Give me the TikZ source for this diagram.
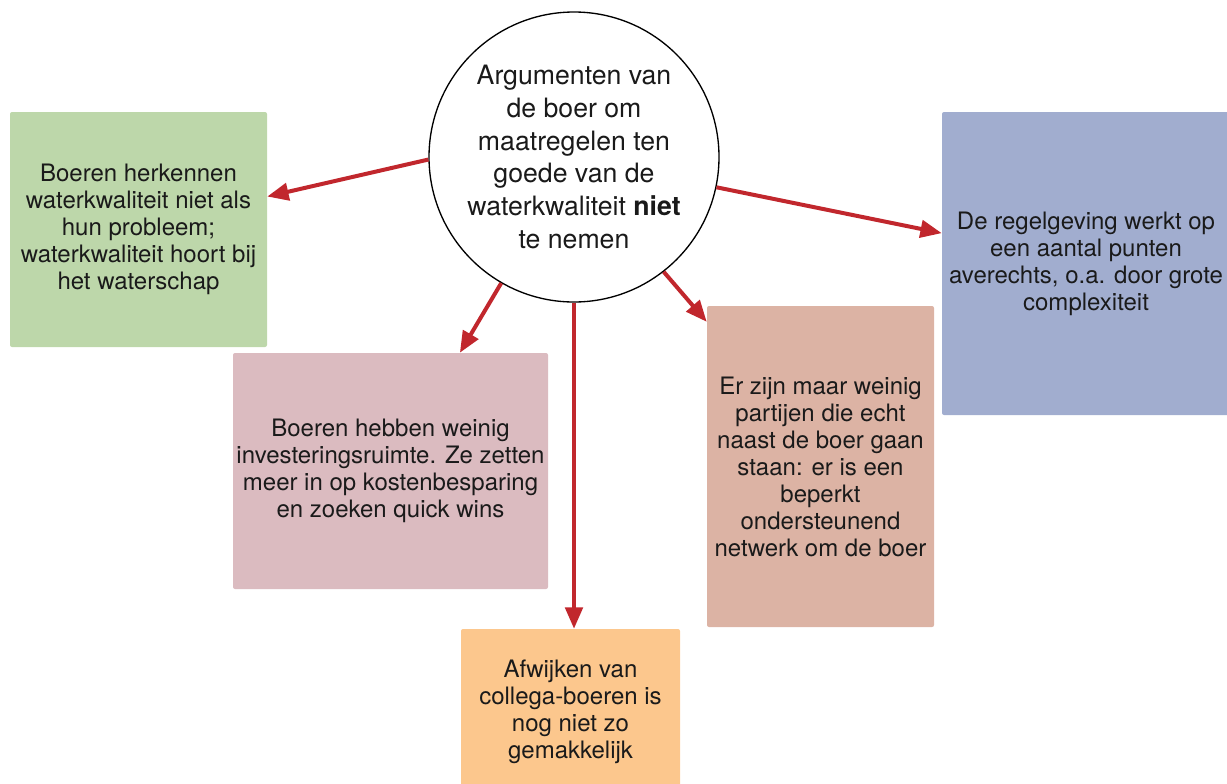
\documentclass[tikz,border=0pt]{standalone}
\usepackage{fontspec}
\setmainfont{TeX Gyre Heros}
\usetikzlibrary{arrows.meta,calc}
\definecolor{txt}{HTML}{1A1A1A}
\definecolor{arrowred}{HTML}{C1272D}
\definecolor{boxgreen}{HTML}{BDD7AA}
\definecolor{boxpink}{HTML}{DBBBC0}
\definecolor{boxorange}{HTML}{FCC78D}
\definecolor{boxbrown}{HTML}{DCB3A4}
\definecolor{boxblue}{HTML}{A1ADCF}
\begin{document}
\begin{tikzpicture}[x=0.75pt,y=-0.75pt,
  box/.style={rectangle, rounded corners=1.5pt, inner sep=0pt, align=center,
    text=txt, font=\fontsize{18}{20.25}\selectfont},
  link/.style={draw=arrowred, line width=3pt,
    -{Triangle[length=16pt,width=13pt]}}]
\useasboundingbox (0,0) rectangle (1227,783);
\clip (0,0) rectangle (1227,783);

% central question
\node[circle, draw=black, line width=1pt, fill=white, minimum size=217.5pt,
  inner sep=0pt, align=center, text=txt,
  font=\fontsize{20}{24.5}\selectfont] (c) at (574,157)
  {Argumenten van\\de boer om\\maatregelen ten\\goede van de\\waterkwaliteit \textbf{niet}\\te nemen};

% arguments
\node[box, fill=boxgreen, minimum width=192.75pt, minimum height=176.25pt] (green) at (138.5,229.5)
  {Boeren herkennen\\waterkwaliteit niet als\\hun probleem;\\waterkwaliteit hoort bij\\het waterschap};
\node[box, fill=boxpink, minimum width=236.25pt, minimum height=177pt] (pink) at (390.5,471)
  {Boeren hebben weinig\\investeringsruimte. Ze zetten\\meer in op kostenbesparing\\en zoeken quick wins};
\node[box, fill=boxorange, minimum width=164.25pt, minimum height=124.5pt] (orange) at (570.5,712)
  {Afwijken van\\collega-boeren is\\nog niet zo\\gemakkelijk};
\node[box, fill=boxbrown, minimum width=170.25pt, minimum height=240.75pt] (brown) at (820.5,466.5)
  {Er zijn maar weinig\\partijen die echt\\naast de boer gaan\\staan: er is een\\beperkt\\ondersteunend\\netwerk om de boer};
\node[box, fill=boxblue, minimum width=216pt, minimum height=227.25pt] (blue) at (1086,263.5)
  {De regelgeving werkt op\\een aantal punten\\averechts, o.a. door grote\\complexiteit};

% connectors
\draw[link] (c.181.6) -- ($(green.north east)!0.36!(green.south east)$);
\draw[link] (c.240.3) -- ($(pink.north west)!0.72!(pink.north east)$);
\draw[link] (c.south) -- (c.south |- orange.north);
\draw[link] (c.308.4) -- ($(brown.north west)!0.05!(brown.south west)$);
\draw[link] (c.348.4) -- ($(blue.north west)!0.4!(blue.south west)$);
\end{tikzpicture}
\end{document}
